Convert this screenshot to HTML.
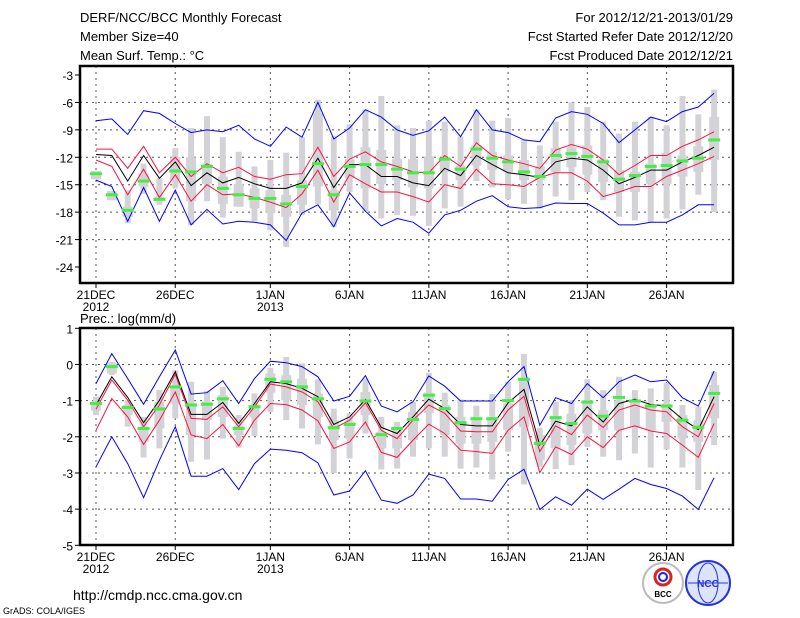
<!DOCTYPE html>
<html><head><meta charset="utf-8"><style>
html,body{margin:0;padding:0;background:#fff;}
svg{display:block;font-family:"Liberation Sans",sans-serif;}
</style></head><body>
<svg id="chart" width="800" height="618" viewBox="0 0 800 618">
<g font-size="13" fill="#000">
<text x="80" y="22">DERF/NCC/BCC Monthly Forecast</text>
<text x="80" y="41">Member Size=40</text>
<text x="80" y="60">Mean Surf. Temp.: °C</text>
<text x="733" y="22" text-anchor="end">For 2012/12/21-2013/01/29</text>
<text x="733" y="41" text-anchor="end">Fcst Started Refer Date 2012/12/20</text>
<text x="733" y="60" text-anchor="end">Fcst Produced Date 2012/12/21</text>
</g>
<text x="80" y="323" font-size="13">Prec.: log(mm/d)</text>
<text x="73" y="600" font-size="14">http://cmdp.ncc.cma.gov.cn</text>
<text x="3" y="614" font-size="9">GrADS: COLA/IGES</text>
<g>
<circle cx="663" cy="583" r="20" fill="#fff" stroke="#bbb" stroke-width="2"/>
<circle cx="663" cy="577" r="8" fill="none" stroke="#d22" stroke-width="3"/>
<circle cx="663" cy="577" r="4" fill="none" stroke="#22c" stroke-width="2"/>
<text x="663" y="597" font-size="8" text-anchor="middle" font-weight="bold" fill="#000">BCC</text>
</g>
<g>
<circle cx="708" cy="583" r="22" fill="#dde4ff" stroke="#2233dd" stroke-width="2"/>
<ellipse cx="708" cy="583" rx="10" ry="20" fill="none" stroke="#2233dd"/>
<line x1="688" y1="583" x2="728" y2="583" stroke="#2233dd"/>
<text x="708" y="587" font-size="10" text-anchor="middle" font-weight="bold" fill="#2233dd">NCC</text>
</g>
</svg>
<script>
const days = 40;
const xLabels = ["21DEC","26DEC","1JAN","6JAN","11JAN","16JAN","21JAN","26JAN"];
const xLabelDays = [0,5,11,16,21,26,31,36];
const tTicks = [-3,-6,-9,-12,-15,-18,-21,-24];
const pTicks = [1,0,-1,-2,-3,-4,-5];

const tMax = [-8.0,-7.8,-9.5,-6.9,-7.2,-8.3,-9.3,-9.0,-9.2,-8.5,-10.0,-10.8,-8.7,-9.8,-6.0,-10.0,-8.8,-6.8,-7.6,-9.0,-9.6,-9.1,-7.6,-9.75,-6.8,-9.0,-9.3,-10.1,-10.3,-7.7,-7.0,-7.3,-8.3,-10.4,-9.0,-7.6,-8.1,-7.0,-6.5,-5.0];
const tUp = [-11.1,-11.1,-13.2,-10.8,-13.7,-12.0,-14.1,-12.7,-13.7,-13.1,-14.1,-14.4,-13.9,-13.8,-10.9,-14.1,-12.2,-11.4,-12.5,-13.0,-13.6,-13.7,-11.8,-13.0,-10.4,-11.8,-12.3,-12.7,-13.2,-11.2,-10.6,-11.1,-12.3,-13.9,-12.9,-11.8,-11.8,-10.8,-10.1,-9.2];
const tMean = [-11.7,-11.8,-14.6,-11.8,-14.3,-12.5,-15.1,-13.7,-14.8,-14.2,-14.9,-15.4,-15.4,-14.8,-12.1,-15.3,-12.8,-12.8,-14.1,-14.1,-14.8,-15.1,-13.2,-14.0,-11.8,-12.8,-13.7,-13.9,-14.2,-12.5,-12.1,-12.3,-13.4,-14.9,-14.2,-13.4,-13.4,-12.5,-11.8,-10.9];
const tLow = [-12.3,-13.0,-16.1,-13.3,-16.4,-13.9,-16.8,-15.0,-16.1,-16.0,-16.4,-16.9,-17.5,-16.0,-13.4,-16.9,-13.9,-14.9,-15.8,-15.8,-16.3,-16.9,-15.0,-15.4,-13.3,-14.9,-15.0,-15.2,-14.2,-13.7,-13.7,-14.6,-16.3,-15.8,-15.2,-15.2,-14.1,-13.4,-12.7,-11.9];
const tMin = [-14.5,-15.2,-19.0,-15.3,-19.0,-15.6,-19.4,-17.7,-19.3,-19.0,-19.1,-19.4,-21.1,-18.1,-17.2,-19.6,-15.9,-17.9,-19.5,-18.7,-19.1,-20.3,-18.3,-17.8,-16.8,-16.2,-17.4,-17.6,-17.5,-17.0,-17.05,-17.05,-18.1,-19.4,-19.4,-19.1,-19.1,-18.3,-17.2,-17.2];
const tObs = [-13.8,-16.1,-17.8,-14.6,-16.6,-13.5,-13.6,-13.0,-15.4,-16.1,-16.5,-16.5,-17.1,-15.2,-12.7,-16.1,-13.0,-12.8,-12.8,-13.3,-13.7,-13.7,-12.2,-13.3,-11.1,-12.1,-12.5,-13.6,-14.1,-11.8,-11.6,-11.9,-12.5,-14.4,-14.0,-13.0,-12.9,-12.4,-12.1,-10.1];
const tWhiskTop = [-13.5,-15.7,-15.6,-12.7,-14.3,-11.0,-8.8,-7.5,-9.8,-11.4,-13.0,-12.3,-11.5,-9.8,-5.7,-9.7,-8.4,-6.8,-5.3,-8.5,-8.8,-8.0,-8.1,-9.75,-6.8,-8.0,-7.7,-10.1,-10.7,-8.1,-6.0,-6.5,-8.1,-9.4,-8.1,-7.6,-8.5,-5.3,-7.3,-4.6];
const tWhiskBot = [-14.4,-16.7,-19.2,-16.0,-17.2,-15.4,-19.4,-16.8,-18.6,-17.4,-19.0,-20.0,-21.8,-18.3,-17.1,-19.6,-15.8,-17.9,-18.7,-18.3,-18.4,-19.5,-17.6,-17.4,-14.6,-15.3,-16.6,-17.1,-17.6,-16.3,-16.7,-15.8,-16.7,-18.5,-18.9,-19.1,-18.7,-17.7,-16.1,-18.0];
const tBoxTop = [-13.5,-15.7,-17.4,-13.8,-16.3,-12.0,-12.0,-12.7,-14.1,-14.9,-15.4,-15.6,-16.1,-14.5,-7.2,-15.6,-12.2,-10.9,-11.2,-12.2,-12.2,-11.9,-12.1,-12.9,-10.7,-11.4,-11.8,-12.3,-13.0,-11.0,-10.9,-10.7,-12.2,-13.4,-13.6,-12.7,-11.5,-11.8,-10.8,-7.6];
const tBoxBot = [-14.4,-16.7,-18.5,-15.2,-16.7,-14.5,-16.8,-14.9,-17.1,-17.4,-17.6,-18.1,-18.5,-17.2,-15.2,-17.8,-14.3,-15.4,-14.9,-14.5,-15.3,-15.4,-13.6,-14.5,-12.9,-13.4,-13.6,-14.5,-14.5,-13.6,-13.1,-13.9,-14.7,-15.8,-15.8,-14.9,-14.9,-14.1,-13.6,-12.3];

const pMax = [-0.53,0.3,-0.39,-1.1,-0.34,0.4,-0.82,-0.78,-0.45,-1.08,-0.39,0.09,0.05,-0.06,-0.34,-1.01,-0.88,-0.31,-1.15,-1.31,-1.03,-0.32,-0.6,-1.01,-1.01,-1.01,-0.48,-0.06,-1.68,-0.92,-1.08,-0.53,-0.92,-0.48,-0.29,-0.48,-0.43,-0.92,-1.15,-0.18];
const pUp = [-1.24,-0.43,-0.99,-1.72,-1.12,-0.27,-1.49,-1.52,-1.17,-1.72,-1.17,-0.54,-0.62,-0.76,-1.03,-1.77,-1.54,-1.06,-1.82,-2.05,-1.54,-1.12,-1.35,-1.84,-1.86,-1.86,-1.26,-0.88,-2.41,-1.7,-1.94,-1.4,-1.74,-1.26,-1.12,-1.26,-1.31,-1.72,-2.0,-1.08];
const pMean = [-1.12,-0.34,-0.91,-1.61,-0.99,-0.2,-1.38,-1.38,-1.05,-1.63,-1.08,-0.48,-0.53,-0.66,-0.89,-1.66,-1.45,-0.97,-1.74,-1.91,-1.45,-0.96,-1.22,-1.66,-1.7,-1.7,-1.06,-0.69,-2.23,-1.57,-1.7,-1.17,-1.59,-1.08,-0.96,-1.11,-1.14,-1.51,-1.8,-0.89];
const pLow = [-1.82,-0.94,-1.45,-2.21,-1.54,-0.76,-1.95,-2.05,-1.66,-2.25,-1.54,-1.08,-1.11,-1.26,-1.56,-2.32,-2.14,-1.59,-2.43,-2.57,-2.09,-1.65,-1.91,-2.37,-2.41,-2.46,-1.82,-1.45,-2.99,-2.28,-2.49,-2.0,-2.3,-1.82,-1.7,-1.84,-1.91,-2.23,-2.57,-1.63];
const pMin = [-2.83,-2.0,-2.74,-3.68,-2.65,-1.72,-3.09,-3.09,-2.88,-3.46,-2.74,-2.34,-2.37,-2.44,-2.72,-3.61,-3.5,-2.94,-3.75,-3.84,-3.61,-3.03,-3.15,-3.72,-3.72,-3.78,-3.18,-2.9,-4.01,-3.66,-3.89,-3.45,-3.73,-3.45,-3.15,-3.32,-3.43,-3.64,-4.01,-3.13];
const pObs = [-1.08,-0.06,-1.19,-1.77,-1.23,-0.62,-1.12,-1.1,-0.95,-1.77,-1.17,-0.41,-0.48,-0.62,-0.95,-1.75,-1.66,-1.01,-1.94,-1.77,-1.52,-0.85,-1.22,-1.61,-1.5,-1.5,-1.0,-0.41,-2.18,-1.47,-1.63,-1.04,-1.43,-0.91,-1.01,-1.15,-1.15,-1.54,-1.74,-0.8];
const pWhiskTop = [-0.89,0.07,-0.99,-1.45,-0.71,-0.16,-0.48,-0.73,-0.62,-1.4,-0.8,-0.09,0.21,0.03,-0.41,-1.22,-1.35,-0.39,-1.45,-1.59,-1.03,-0.23,-0.78,-0.97,-1.14,-0.82,-0.48,0.29,-1.75,-1.03,-0.99,-0.41,-0.71,-0.34,-0.71,-0.66,-0.51,-1.12,-1.17,-0.2];
const pWhiskBot = [-1.4,-0.29,-1.72,-2.57,-2.32,-1.49,-2.69,-2.63,-2.05,-2.3,-1.98,-1.31,-1.54,-1.77,-2.21,-3.0,-2.6,-1.91,-2.9,-2.88,-2.55,-2.32,-2.55,-2.88,-2.85,-3.18,-2.41,-3.32,-2.83,-2.89,-2.78,-2.28,-2.55,-2.65,-2.46,-2.85,-2.35,-2.85,-3.47,-2.23];
const pBoxTop = [-1.03,0.03,-1.12,-1.72,-1.03,-0.62,-1.12,-1.03,-0.85,-1.7,-1.12,-0.25,-0.3,-0.39,-0.8,-1.54,-1.58,-0.76,-1.86,-1.72,-1.31,-0.78,-1.12,-1.45,-1.54,-1.49,-1.08,-0.43,-1.95,-1.45,-1.36,-0.99,-1.26,-0.99,-0.99,-1.17,-1.08,-1.4,-1.54,-0.57];
const pBoxBot = [-1.28,-0.25,-1.4,-2.14,-1.77,-1.08,-1.95,-1.54,-1.45,-1.95,-1.47,-0.78,-0.99,-1.12,-1.45,-2.09,-2.05,-1.4,-2.32,-2.32,-2.09,-1.34,-1.95,-2.19,-2.19,-2.14,-1.82,-1.73,-2.65,-2.32,-2.23,-1.91,-1.82,-1.82,-1.73,-1.82,-1.59,-2.05,-2.14,-1.49];

const NS = "http://www.w3.org/2000/svg";
const svg = document.getElementById("chart");
function el(tag, attrs, parent){
  const e = document.createElementNS(NS, tag);
  for (const k in attrs) e.setAttribute(k, attrs[k]);
  (parent||svg).appendChild(e);
  return e;
}
const X0 = 80, X1 = 733;
function xScale(d){ return 96 + d*15.85; }

function panel(name, top, bottom, vTop, vBot, ticks, series, bars, obs, yearLabelY){
  const yScale = v => top + 9 + (vTop - v)/(vTop - vBot)*(bottom - top - 9);
  return yScale;
}

function drawPanel(opt){
  const g = el("g", {});
  
  
  const y = v => opt.yTop + (opt.vTop - v)/(opt.vTop - opt.vBot)*(opt.yBot - opt.yTop);
  // grid
  opt.ticks.forEach(t => {
    if (t !== opt.vTop && t !== opt.vBot) {
      const gl = el("line", {x1:X0, x2:X1, y1:y(t), y2:y(t), stroke:"#555", "stroke-width":1, "stroke-dasharray":"2,4"}, g);
      
      
    }
    const tk = el("line", {x1:X0-5, x2:X0, y1:y(t), y2:y(t), stroke:"#000"}, g);
    
    
    const tl = el("text", {x:X0-7, y:y(t)+5, "text-anchor":"end", "font-size":"12"}, g);
    
    
    tl.textContent = String(t);
  });
  xLabelDays.forEach((d,i) => {
    const gl = el("line", {x1:xScale(d), x2:xScale(d), y1:opt.frameTop, y2:opt.frameBot, stroke:"#555", "stroke-dasharray":"2,4"}, g);
    
    
    const tk = el("line", {x1:xScale(d), x2:xScale(d), y1:opt.frameBot, y2:opt.frameBot+5, stroke:"#000"}, g);
    
    
    const tl = el("text", {x:xScale(d), y:opt.frameBot+16, "text-anchor":"middle", "font-size":"12"}, g);
    
    
    tl.textContent = xLabels[i];
  });
  [[0,"2012"],[11,"2013"]].forEach(p => {
    const yl = el("text", {x:xScale(p[0]), y:opt.frameBot+28, "text-anchor":"middle", "font-size":"12"}, g);
    
    
    yl.textContent = p[1];
  });
  // bars
  for (let d=0; d<days; d++){
    const w = el("rect", {x:xScale(d)-3, y:y(opt.wt[d]), width:6, height:Math.max(1,y(opt.wb[d])-y(opt.wt[d])), fill:"#d3d3d7"}, g);
    
    
    const b = el("rect", {x:xScale(d)-5, y:y(opt.bt[d]), width:10, height:Math.max(1,y(opt.bb[d])-y(opt.bt[d])), fill:"#d3d3d7"}, g);
    
    
  }
  const lines = [[opt.max,"#0000ff","max-line"],[opt.up,"#ff1040","upper-line"],[opt.low,"#ff1040","lower-line"],[opt.min,"#0000ff","min-line"],[opt.mean,"#000","mean-line"]];
  lines.forEach(s => {
    const pts = s[0].map((v,d) => xScale(d).toFixed(1)+","+y(v).toFixed(1)).join(" ");
    const pl = el("polyline", {points:pts, fill:"none", stroke:s[1], "stroke-width":1}, g);
    
    
  });
  for (let d=0; d<days; d++){
    const m = el("rect", {x:xScale(d)-6, y:y(opt.obs[d])-1.5, width:12, height:3, fill:"#44ee44"}, g);
    
    
  }
  const fr = el("rect", {x:X0, y:opt.frameTop, width:X1-X0, height:opt.frameBot-opt.frameTop, fill:"none", stroke:"#000", "stroke-width":2.5}, g);
  
  
}

drawPanel({name:"temperature-panel", yTop:75, yBot:267, vTop:-3, vBot:-24, frameTop:66, frameBot:283, ticks:tTicks,
  max:tMax, up:tUp, mean:tMean, low:tLow, min:tMin, obs:tObs, wt:tWhiskTop, wb:tWhiskBot, bt:tBoxTop, bb:tBoxBot});
drawPanel({name:"precipitation-panel", yTop:328.3, yBot:545.3, vTop:1, vBot:-5, frameTop:328, frameBot:545, ticks:pTicks,
  max:pMax, up:pUp, mean:pMean, low:pLow, min:pMin, obs:pObs, wt:pWhiskTop, wb:pWhiskBot, bt:pBoxTop, bb:pBoxBot});
</script>
</body></html>
